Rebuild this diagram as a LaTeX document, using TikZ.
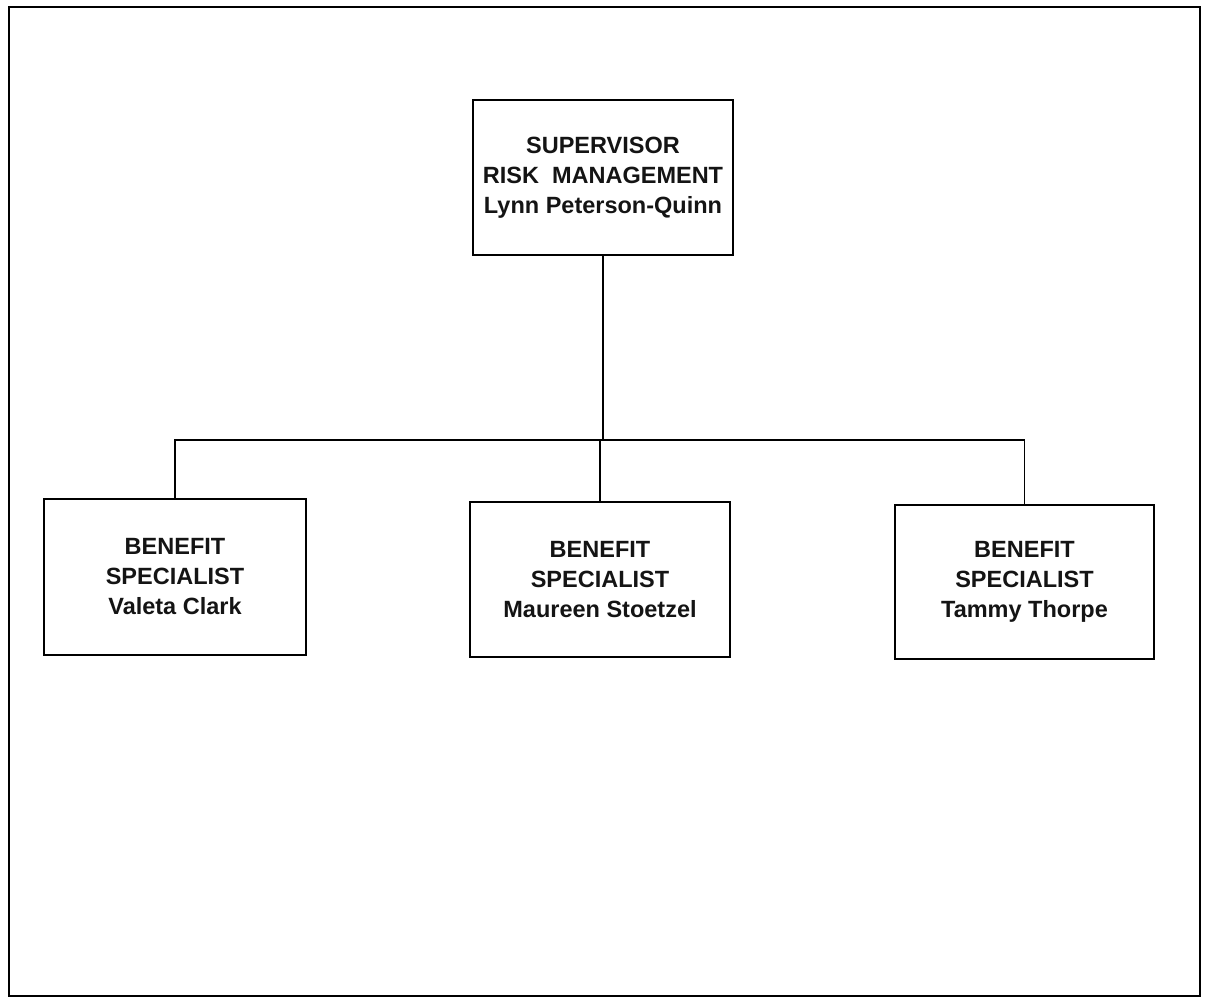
\documentclass[tikz,border=0pt]{standalone}
\usepackage{fontspec}
\setmainfont{Liberation Sans}
\begin{document}
\begin{tikzpicture}[x=1pt,y=-1pt,
  box/.style={draw=black, line width=1.6pt, align=center, inner sep=0pt,
    font=\fontsize{23.5}{30}\selectfont\bfseries, text=black!92},
  link/.style={draw=black, line width=1.5pt}]
\useasboundingbox (0,0) rectangle (1205,999);
\draw[line width=2.6pt] (9,7) rectangle (1200,996);
\node[box, minimum width=260pt, minimum height=155pt] (top) at (603,177.5)
  {SUPERVISOR\\RISK~~MANAGEMENT\\Lynn Peterson-Quinn};
\node[box, minimum width=262pt, minimum height=156pt] (b1) at (175,577)
  {BENEFIT\\SPECIALIST\\Valeta Clark};
\node[box, minimum width=260pt, minimum height=155pt] (b2) at (600,579.5)
  {BENEFIT\\SPECIALIST\\Maureen Stoetzel};
\node[box, minimum width=259pt, minimum height=154pt] (b3) at (1024.5,582)
  {BENEFIT\\SPECIALIST\\Tammy Thorpe};
\coordinate (bus) at (600,440);
\draw[link] (top.south) -- (top.south |- bus);
\draw[link] (b1.north) |- (bus) -| (b3.north);
\draw[link] (b2.north) -- (b2.north |- bus);
\end{tikzpicture}
\end{document}
